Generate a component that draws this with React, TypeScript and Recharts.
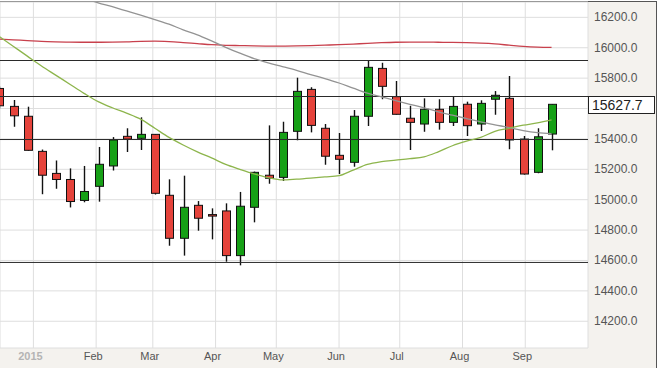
import React from 'react';
import { ComposedChart, Bar, Line, XAxis, YAxis, CartesianGrid, ReferenceLine } from 'recharts';

// Weekly candles (week start dates)
const weeks = [
  '2014-12-15', '2014-12-22', '2014-12-29', '2015-01-05', '2015-01-12', '2015-01-19', '2015-01-26',
  '2015-02-02', '2015-02-09', '2015-02-16', '2015-02-23', '2015-03-02', '2015-03-09', '2015-03-16',
  '2015-03-23', '2015-03-30', '2015-04-06', '2015-04-13', '2015-04-20', '2015-04-27', '2015-05-04',
  '2015-05-11', '2015-05-18', '2015-05-25', '2015-06-01', '2015-06-08', '2015-06-15', '2015-06-22',
  '2015-06-29', '2015-07-06', '2015-07-13', '2015-07-20', '2015-07-27', '2015-08-03', '2015-08-10',
  '2015-08-17', '2015-08-24', '2015-08-31', '2015-09-07', '2015-09-14',
];

const opens = [
  15732, 15614, 15549, 15318, 15173, 15133, 14995, 15088, 15222, 15417,
  15404, 15430, 15029, 14746, 14963, 14902, 14926, 14632, 14950, 15161,
  15147, 15450, 15726, 15470, 15292, 15246, 15549, 15864, 15678, 15536,
  15498, 15595, 15509, 15628, 15498, 15661, 15667, 15399, 15180, 15432,
];
const highs = [
  15745, 15656, 15612, 15330, 15258, 15206, 15222, 15347, 15412, 15470,
  15542, 15432, 15134, 15158, 14991, 14943, 14976, 15051, 15185, 15489,
  15513, 15803, 15740, 15498, 15439, 15590, 15919, 15901, 15781, 15618,
  15667, 15661, 15678, 15645, 15654, 15715, 15814, 15419, 15470, 15628,
];
const lows = [
  15600, 15480, 15322, 15036, 15072, 14949, 14983, 14987, 15192, 15314,
  15327, 15034, 14697, 14632, 14796, 14739, 14592, 14568, 14851, 15105,
  15123, 15391, 15443, 15230, 15169, 15217, 15485, 15661, 15560, 15327,
  15447, 15461, 15485, 15419, 15452, 15559, 15332, 15165, 15174, 15325,
];
const closes = [
  15618, 15552, 15325, 15161, 15133, 14988, 15054, 15233, 15393, 15399,
  15430, 15042, 14746, 14950, 14878, 14898, 14632, 14957, 15180, 15141,
  15443, 15713, 15489, 15286, 15266, 15549, 15871, 15746, 15562, 15509,
  15595, 15509, 15614, 15487, 15634, 15687, 15393, 15169, 15414, 15627.7,
];

// Moving averages
const maGreen = [
  16075, 16010, 15945, 15880, 15820, 15760, 15700, 15645, 15605, 15570,
  15530, 15470, 15410, 15360, 15315, 15275, 15232, 15200, 15170, 15145,
  15130, 15135, 15142, 15150, 15158, 15195, 15232, 15250, 15260, 15270,
  15282, 15315, 15355, 15385, 15410, 15450, 15470, 15490, 15505, 15525,
];
const maGray: (number | null)[] = [
  null, null, null, null, null, null, 16325, 16296, 16270, 16242,
  16214, 16185, 16155, 16118, 16085, 16045, 16003, 15964, 15928, 15900,
  15876, 15851, 15823, 15797, 15768, 15734, 15701, 15676, 15652, 15628,
  15605, 15578, 15556, 15534, 15512, 15493, 15475, 15455, 15441, 15434,
];
const maRed = [
  16057, 16052, 16047, 16042, 16039, 16037, 16036, 16036, 16037, 16039,
  16042, 16043, 16040, 16034, 16027, 16020, 16016, 16014, 16012, 16011,
  16011, 16012, 16014, 16017, 16020, 16024, 16029, 16033, 16036, 16037,
  16037, 16036, 16035, 16033, 16030, 16025, 16017, 16009, 16004, 16002,
];

const levels = [15916, 15679, 15396, 14587];
const lastPrice = 15627.7;

const monthStarts = ['2015-01-01', '2015-02-01', '2015-03-01', '2015-04-01', '2015-05-01', '2015-06-01', '2015-07-01', '2015-08-01', '2015-09-01'];
const monthLabels = ['2015', 'Feb', 'Mar', 'Apr', 'May', 'Jun', 'Jul', 'Aug', 'Sep'];
const yTicks = [14200, 14400, 14600, 14800, 15000, 15200, 15400, 15600, 15800, 16000, 16200];

const BASE = Date.UTC(2015, 0, 1);
const toDay = (s: string) => {
  const [y, m, d] = s.split('-').map(Number);
  return (Date.UTC(y, m - 1, d) - BASE) / 86400000;
};
const monthDays = monthStarts.map(toDay);

const data = weeks.map((w, i) => ({
  day: toDay(w),
  open: opens[i],
  high: highs[i],
  low: lows[i],
  close: closes[i],
  range: [lows[i], highs[i]],
  green: maGreen[i],
  gray: maGray[i],
  red: maRed[i],
}));

const FONT = '"Liberation Sans", Arial, sans-serif';
const UP = '#16a016';
const DOWN = '#e5433b';

const Candle = (props: any) => {
  const { x, y, width, height, payload } = props;
  if (!payload || x == null) return null;
  const { open, close, high, low } = payload;
  const top = Math.min(y, y + height);
  const h = Math.abs(height);
  const k = h / (high - low);
  const py = (v: number) => top + (high - v) * k;
  const cx = Math.round(x + width / 2) + 0.5;
  const bTop = py(Math.max(open, close));
  const bBot = py(Math.min(open, close));
  const up = close >= open;
  return (
    <g>
      <line x1={cx} x2={cx} y1={top} y2={top + h} stroke="#111" strokeWidth={1.4} />
      <rect x={cx - 4} y={bTop} width={8} height={Math.max(bBot - bTop, 1.5)} fill={up ? UP : DOWN} stroke="#111" strokeWidth={1} />
    </g>
  );
};

const MonthTick = (props: any) => {
  const { x, y, payload } = props;
  const i = monthDays.indexOf(payload.value);
  return (
    <text x={x - 3} y={y + 12} textAnchor="middle" fontSize={11} fontFamily={FONT}
      fill={i === 0 ? '#b4b4b4' : '#555'} fontWeight={i === 0 ? 'bold' : 'normal'}>
      {monthLabels[i]}
    </text>
  );
};

const PriceTick = (props: any) => {
  const { x, y, payload } = props;
  // the last-price tag covers the tick label that falls under it
  if (Math.abs(payload.value - lastPrice) < 60) return null;
  return (
    <text x={x + 6} y={y + 4} textAnchor="start" fontSize={12} fontFamily={FONT} fill="#555">
      {Number(payload.value).toFixed(1)}
    </text>
  );
};

const PriceTag = (props: any) => {
  const vb = props.viewBox || {};
  const right = (vb.x || 0) + (vb.width || 0);
  const cy = Math.round(vb.y || 0);
  return (
    <g>
      <rect x={right + 0.5} y={cy - 7.5} width={66} height={17} fill="#fff" stroke="#222" strokeWidth={1} />
      <text x={right + 4} y={cy + 6} fontSize={14} fontFamily={FONT} fill="#222">{lastPrice.toFixed(1)}</text>
    </g>
  );
};

export default function App() {
  return (
    <div style={{ position: 'absolute', left: 0, top: 0, width: 660, height: 368, background: '#fff', overflow: 'hidden' }}>
      <div style={{ position: 'absolute', left: -2, top: 1, width: 659, height: 370, background: '#f4f2ee', border: '1px solid #555', boxSizing: 'border-box' }} />
      <ComposedChart width={660} height={368} data={data} margin={{ top: 2, right: 4, bottom: 0, left: 0 }}>
        <CartesianGrid fill="#fff" stroke="#dedede" strokeWidth={1} />
        <XAxis dataKey="day" type="number" domain={[-16.5, 274]} allowDataOverflow ticks={monthDays}
          tick={<MonthTick />} tickLine={false} axisLine={false} tickSize={0} tickMargin={0} height={20} interval={0} />
        <YAxis orientation="right" type="number" domain={[14024, 16301]} allowDataOverflow ticks={yTicks}
          tick={<PriceTick />} tickLine={false} axisLine={false} tickSize={0} tickMargin={0} width={68} interval={0} />
        {levels.map((v) => (
          <ReferenceLine key={v} y={v} stroke="#2a2a2a" strokeWidth={1} />
        ))}
        <Bar dataKey="range" barSize={9} shape={<Candle />} isAnimationActive={false} />
        <Line type="monotone" dataKey="red" stroke="#c8404c" strokeWidth={1.3} dot={false} activeDot={false} isAnimationActive={false} />
        <Line type="monotone" dataKey="gray" stroke="#939393" strokeWidth={1.3} dot={false} activeDot={false} isAnimationActive={false} />
        <Line type="monotone" dataKey="green" stroke="#8db54c" strokeWidth={1.3} dot={false} activeDot={false} isAnimationActive={false} />
        <ReferenceLine y={lastPrice} stroke="none" label={<PriceTag />} />
      </ComposedChart>
    </div>
  );
}
